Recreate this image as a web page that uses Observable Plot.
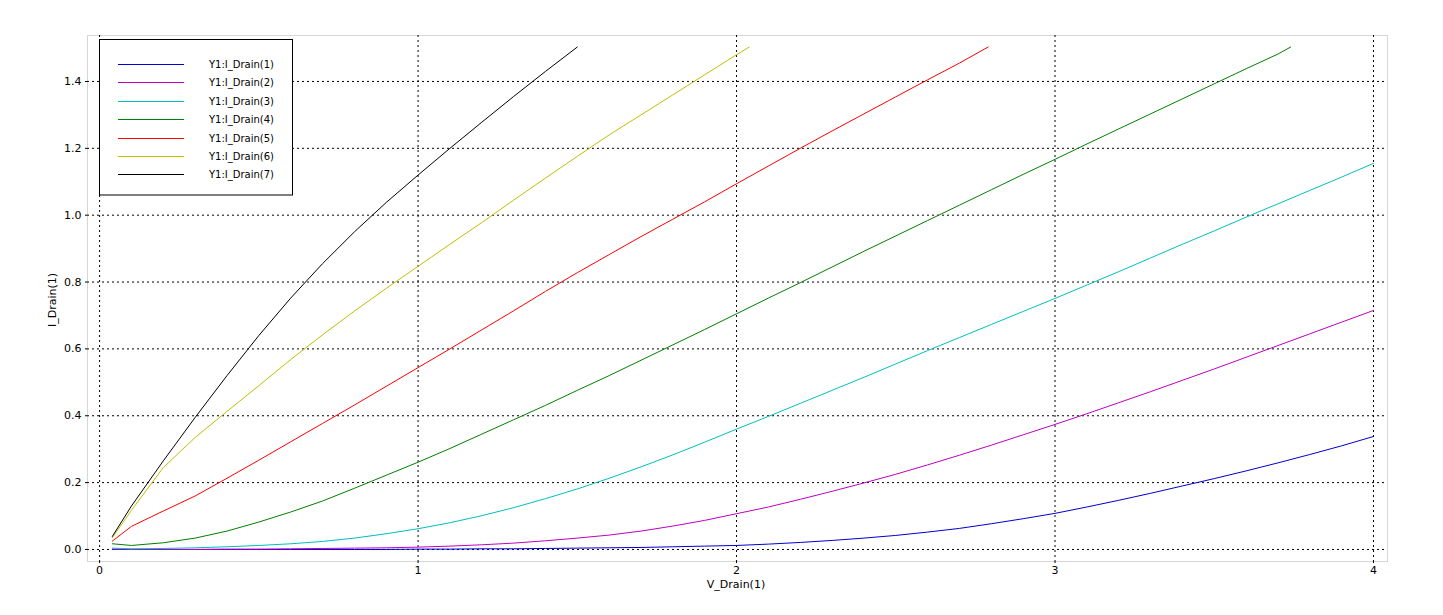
<!DOCTYPE html>
<html>
<head>
<meta charset="utf-8">
<script src="https://cdn.jsdelivr.net/npm/d3@7"></script>
<script src="https://cdn.jsdelivr.net/npm/@observablehq/plot@0.6"></script>
<style>
  html, body { margin: 0; padding: 0; background: #fff; }
  #chart svg { display: block; font-family: "DejaVu Sans", sans-serif; }
</style>
</head>
<body>
<div id="chart"></div>
<script>
// Shared drain-voltage grid
const vDrain = [0.04, 0.1, 0.2, 0.3, 0.4, 0.5, 0.6, 0.7, 0.8, 0.9, 1.0,
  1.1, 1.2, 1.3, 1.4, 1.5, 1.6, 1.7, 1.8, 1.9, 2.0,
  2.1, 2.2, 2.3, 2.4, 2.5, 2.6, 2.7, 2.8, 2.9, 3.0,
  3.1, 3.2, 3.3, 3.4, 3.5, 3.6, 3.7, 3.8, 3.9, 4.0];

const seriesNames = ["Y1:I_Drain(1)", "Y1:I_Drain(2)", "Y1:I_Drain(3)", "Y1:I_Drain(4)",
  "Y1:I_Drain(5)", "Y1:I_Drain(6)", "Y1:I_Drain(7)"];
const seriesColors = ["#0000d0", "#bf00bf", "#00bfbf", "#008000", "#ff0000", "#bfbf00", "#000000"];

const iDrain1 = [0, 0, 0, 0, 0, 0, 0, 0, 0, 0, 0.001,
  0.001, 0.002, 0.002, 0.003, 0.004, 0.005, 0.006, 0.008, 0.010, 0.012,
  0.016, 0.021, 0.027, 0.034, 0.042, 0.052, 0.063, 0.077, 0.092, 0.108,
  0.127, 0.147, 0.168, 0.190, 0.212, 0.235, 0.259, 0.284, 0.310, 0.338];
const iDrain2 = [0.001, 0, 0, 0, 0.001, 0.001, 0.002, 0.003, 0.004, 0.005, 0.007,
  0.010, 0.014, 0.019, 0.026, 0.034, 0.043, 0.055, 0.070, 0.087, 0.107,
  0.127, 0.150, 0.174, 0.199, 0.225, 0.253, 0.282, 0.312, 0.343, 0.374,
  0.406, 0.439, 0.472, 0.506, 0.540, 0.575, 0.610, 0.645, 0.680, 0.715];
const iDrain3 = [0.004, 0.002, 0.003, 0.005, 0.008, 0.012, 0.017, 0.024, 0.034, 0.047, 0.062,
  0.080, 0.101, 0.125, 0.152, 0.181, 0.213, 0.247, 0.283, 0.321, 0.360,
  0.398, 0.437, 0.476, 0.515, 0.555, 0.595, 0.634, 0.673, 0.712, 0.751,
  0.791, 0.831, 0.872, 0.913, 0.953, 0.994, 1.034, 1.074, 1.114, 1.155];
const iDrain4 = [0.017, 0.012, 0.020, 0.034, 0.055, 0.082, 0.112, 0.145, 0.183, 0.222, 0.261,
  0.302, 0.345, 0.388, 0.431, 0.476, 0.520, 0.566, 0.612, 0.658, 0.705,
  0.752, 0.798, 0.845, 0.892, 0.938, 0.984, 1.030, 1.076, 1.122, 1.167,
  1.213, 1.258, 1.303, 1.348, 1.393, 1.438, 1.482];
const iDrain5 = [0.025, 0.069, 0.115, 0.160, 0.213, 0.267, 0.322, 0.377, 0.432, 0.488, 0.544,
  0.600, 0.657, 0.714, 0.772, 0.828, 0.882, 0.936, 0.988, 1.040, 1.094,
  1.147, 1.200, 1.252, 1.303, 1.354, 1.405, 1.455];
const iDrain6 = [0.035, 0.117, 0.245, 0.335, 0.413, 0.490, 0.568, 0.642, 0.713, 0.781, 0.847,
  0.913, 0.978, 1.045, 1.111, 1.176, 1.240, 1.300, 1.360, 1.420, 1.480];
const iDrain7 = [0.039, 0.130, 0.265, 0.395, 0.520, 0.640, 0.752, 0.855, 0.950, 1.038, 1.120,
  1.200, 1.278, 1.355, 1.430, 1.503];

// Last sample of each sweep (compliance stop), where it falls off the grid
const endV = [null, null, null, 3.74, 2.79, 2.04, null];
const endI = [null, null, null, 1.503, 1.503, 1.503, null];

const xTicks = [0, 1, 2, 3, 4];
const yTicks = [0.0, 0.2, 0.4, 0.6, 0.8, 1.0, 1.2, 1.4];

const allSeries = [iDrain1, iDrain2, iDrain3, iDrain4, iDrain5, iDrain6, iDrain7];
const rows = allSeries.flatMap((ys, k) => {
  const r = ys.map((y, j) => ({v: vDrain[j], i: y, s: seriesNames[k]}));
  if (endV[k] != null) r.push({v: endV[k], i: endI[k], s: seriesNames[k]});
  return r;
});

const dash = "2,3";
const chart = Plot.plot({
  width: 1443,
  height: 615,
  marginLeft: 87,
  marginRight: 56,
  marginTop: 35,
  marginBottom: 54,
  style: {fontFamily: "DejaVu Sans, sans-serif", fontSize: "11px", background: "#fff"},
  x: {domain: [-0.038, 4.044], ticks: xTicks, tickFormat: d => String(d)},
  y: {domain: [-0.036, 1.5375], ticks: yTicks, tickFormat: d3.format(".1f")},
  color: {domain: seriesNames, range: seriesColors},
  marks: [
    Plot.frame({stroke: "#d6d6d6"}),
    Plot.gridX(xTicks, {stroke: "#000", strokeOpacity: 1, strokeDasharray: dash}),
    Plot.gridY(yTicks, {stroke: "#000", strokeOpacity: 1, strokeDasharray: dash}),
    Plot.axisX({ticks: xTicks, tickSize: 4, tickPadding: 1, label: null, tickFormat: d => String(d), fontSize: 11, strokeDasharray: dash}),
    Plot.axisY({ticks: yTicks, tickSize: 4, tickPadding: 2, label: null, tickFormat: d3.format(".1f"), fontSize: 11, strokeDasharray: dash}),
    Plot.line(rows, {x: "v", y: "i", z: "s", stroke: "s", strokeWidth: 1, curve: "linear"})
  ]
});

document.getElementById("chart").appendChild(chart);

// Axis titles and legend overlay
const svg = d3.select(chart);
svg.append("text")
  .attr("x", 736).attr("y", 588)
  .attr("text-anchor", "middle")
  .attr("font-size", 11)
  .attr("fill", "#000")
  .text("V_Drain(1)");
svg.append("text")
  .attr("transform", "translate(56,300) rotate(-90)")
  .attr("text-anchor", "middle")
  .attr("font-size", 11)
  .attr("fill", "#000")
  .text("I_Drain(1)");

const lg = svg.append("g").attr("text-anchor", "start");
lg.append("rect")
  .attr("x", 99.5).attr("y", 39.5).attr("width", 193).attr("height", 155.5)
  .attr("fill", "#fff").attr("stroke", "#000").attr("stroke-width", 1);
seriesNames.forEach((name, k) => {
  const y = Math.round(64 + k * 18.4) + 0.5;
  lg.append("line")
    .attr("x1", 118).attr("x2", 184).attr("y1", y).attr("y2", y)
    .attr("stroke", seriesColors[k]).attr("stroke-width", 1);
  lg.append("text")
    .attr("x", 209).attr("y", y).attr("dy", "0.35em")
    .attr("text-anchor", "start")
    .attr("font-size", 10).attr("fill", "#000")
    .text(name);
});
</script>
</body>
</html>
